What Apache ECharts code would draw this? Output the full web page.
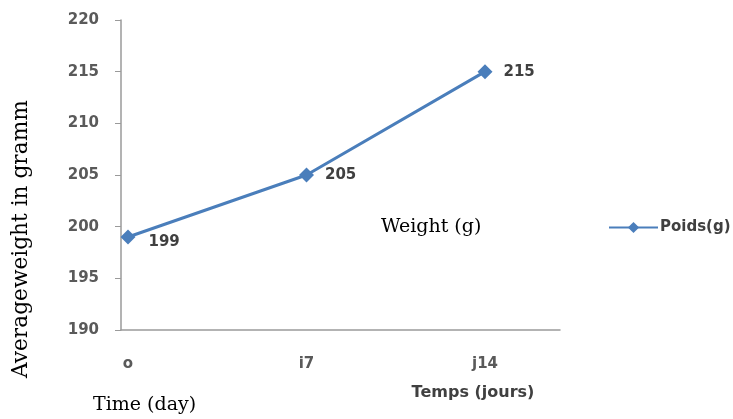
<!DOCTYPE html>
<html>
<head>
<meta charset="utf-8">
<script src="https://cdn.jsdelivr.net/npm/echarts@6/dist/echarts.min.js"></script>
<style>html,body{margin:0;padding:0;background:#fff;}#c{width:733px;height:419px;}</style>
</head>
<body>
<div id="c"></div>
<script>
const categories = ['o', 'i7', 'j14'];
const poids = [199, 205, 215];
const seriesName = 'Poids(g)';
const yMin = 190, yMax = 220, yStep = 5;

const chart = echarts.init(document.getElementById('c'));
const tickFont = {fontFamily: 'DejaVu Sans', fontSize: 15, fontWeight: 'bold', color: '#5a5a5a'};
chart.setOption({
  animation: false,
  backgroundColor: '#fff',
  grid: [
    {left: 128, right: 248, top: 20, bottom: 89},
    {left: 121, right: 173, top: 20, bottom: 89}
  ],
  legend: {
    data: [seriesName],
    left: 603, top: 215,
    itemWidth: 49, itemHeight: 14,
    textStyle: {fontFamily: 'DejaVu Sans', fontSize: 15, fontWeight: 'bold', color: '#404040', padding: [0, 0, 0, -3]},
    itemGap: 4
  },
  xAxis: [
    {
      type: 'category', gridIndex: 0, data: categories, boundaryGap: false,
      axisLine: {show: false}, axisTick: {show: false},
      axisLabel: Object.assign({margin: 27}, tickFont)
    },
    {
      type: 'value', gridIndex: 1, min: 0, max: 1,
      axisLine: {show: true, lineStyle: {color: '#9a9a9a', width: 1.5}},
      axisTick: {show: false}, axisLabel: {show: false}, splitLine: {show: false}
    }
  ],
  yAxis: [
    {
      type: 'value', gridIndex: 0, min: yMin, max: yMax, interval: yStep, offset: 7,
      axisLine: {show: true, lineStyle: {color: '#9a9a9a', width: 1.5}},
      axisTick: {show: true, inside: false, length: 6, lineStyle: {color: '#9a9a9a'}},
      axisLabel: Object.assign({margin: 22}, tickFont),
      splitLine: {show: false}
    },
    {
      type: 'value', gridIndex: 1, min: 0, max: 1, show: false
    }
  ],
  series: [{
    name: seriesName, type: 'line', xAxisIndex: 0, yAxisIndex: 0,
    data: poids.map((v, i) => i === 0 ? {value: v, label: {position: 'right', offset: [2, 5]}} : v),
    symbol: 'diamond', symbolSize: 15,
    lineStyle: {color: '#4a7ebb', width: 3},
    itemStyle: {color: '#4a7ebb'},
    label: {show: true, position: 'right', distance: 11, fontFamily: 'DejaVu Sans', fontSize: 15, fontWeight: 'bold', color: '#404040'}
  }],
  graphic: [
    {type: 'text', x: 473, y: 385, style: {text: 'Temps (jours)', font: 'bold 16px "DejaVu Sans"', fill: '#404040', align: 'center'}},
    {type: 'text', x: 93, y: 396, style: {text: 'Time (day)', font: '19px "DejaVu Serif"', fill: '#000'}},
    {type: 'text', x: 381, y: 218, style: {text: 'Weight (g)', font: '19px "DejaVu Serif"', fill: '#000'}},
    {type: 'text', x: 10, y: 378, rotation: Math.PI / 2, style: {text: 'Averageweight in gramm', font: '21.7px "DejaVu Serif"', fill: '#000'}}
  ]
});
</script>
</body>
</html>
